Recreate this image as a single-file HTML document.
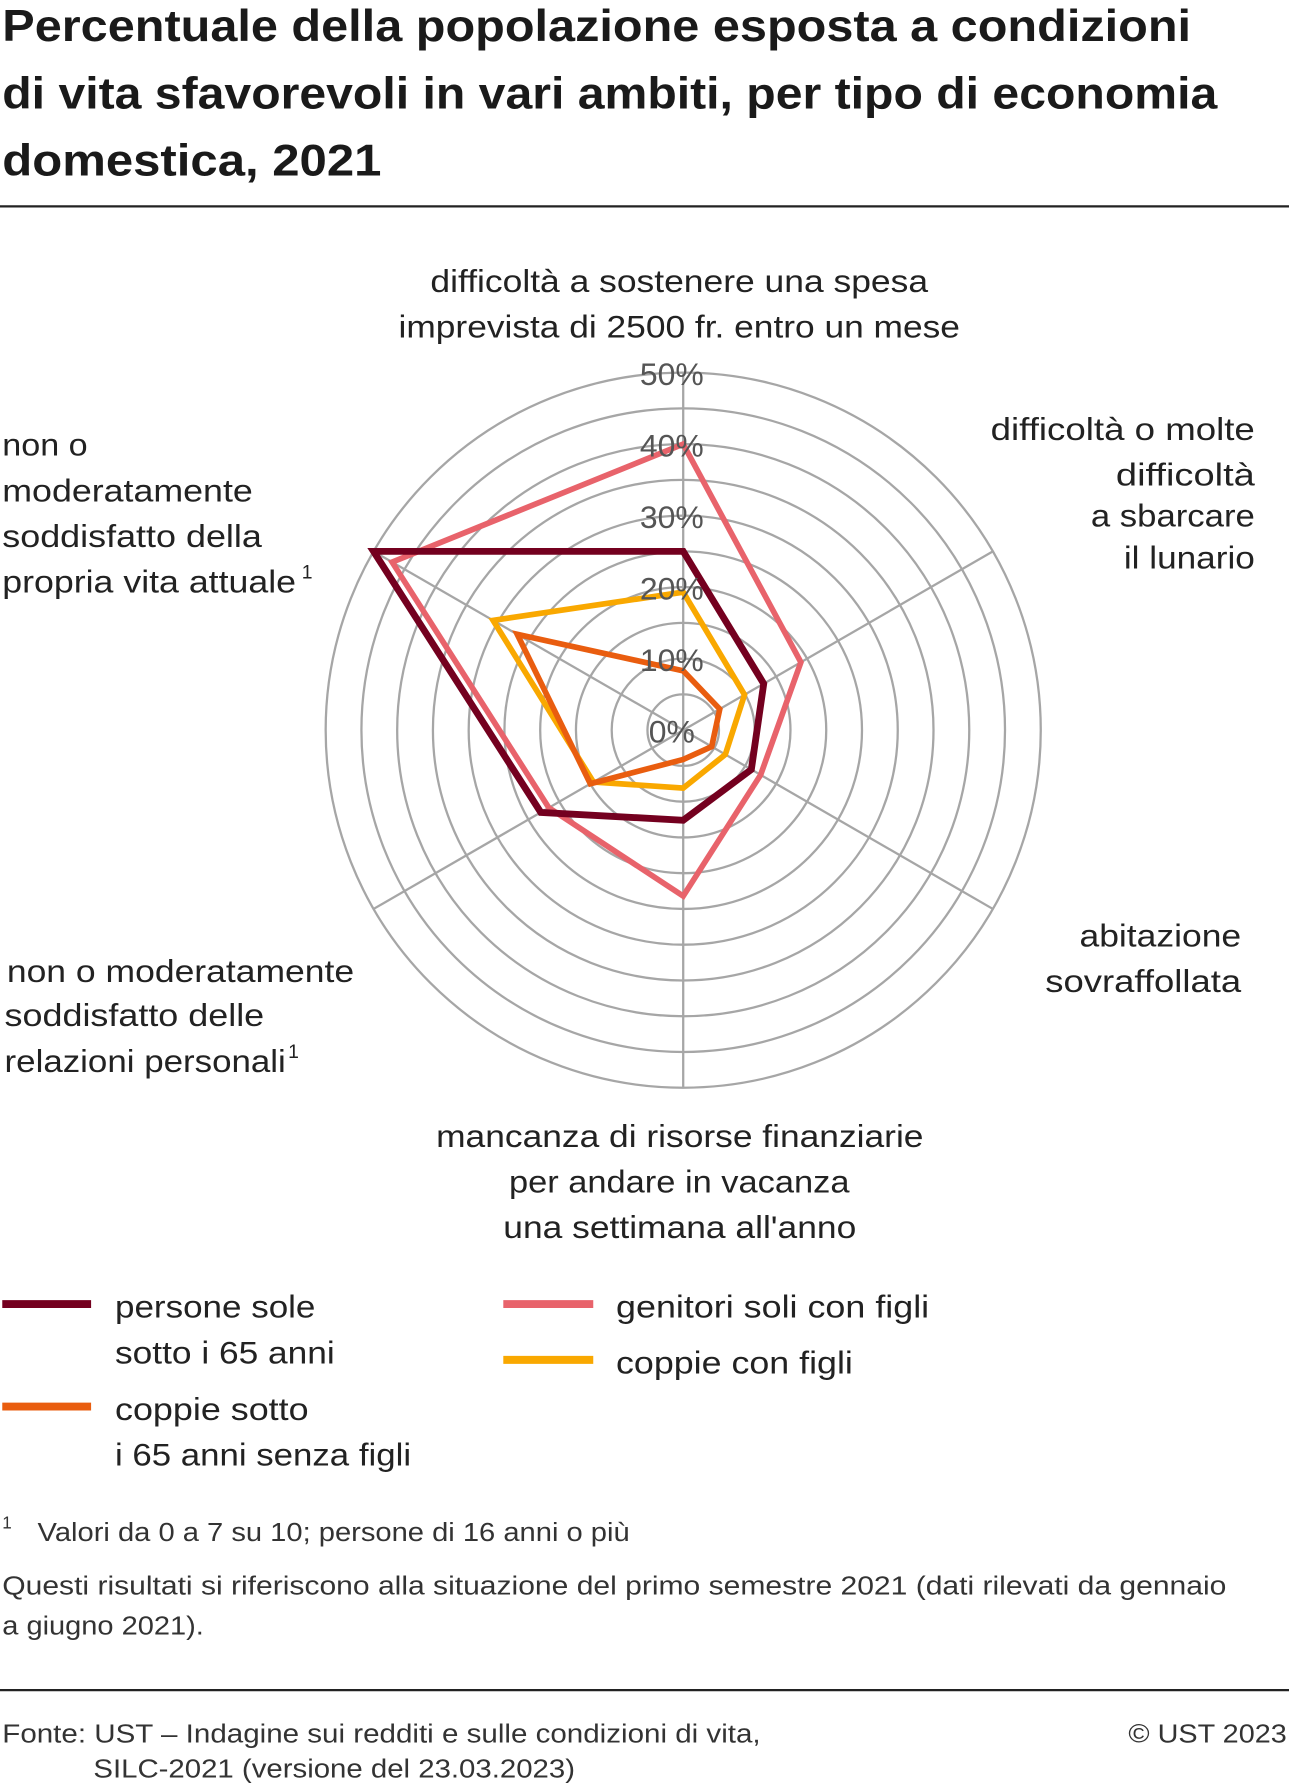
<!DOCTYPE html>
<html><head><meta charset="utf-8">
<style>
html,body{margin:0;padding:0;background:#fff;}
svg{display:block;font-family:"Liberation Sans",Arial,sans-serif;}
</style></head>
<body>
<svg id="chart" width="1289" height="1786" viewBox="0 0 1132 1568" xmlns="http://www.w3.org/2000/svg">
  <g font-size="39" font-weight="bold" fill="#1a1a1a" lengthAdjust="spacingAndGlyphs">
    <text x="2" y="36" textLength="1044" lengthAdjust="spacingAndGlyphs">Percentuale della popolazione esposta a condizioni</text>
    <text x="2" y="95" textLength="1067" lengthAdjust="spacingAndGlyphs">di vita sfavorevoli in vari ambiti, per tipo di economia</text>
    <text x="2" y="154" textLength="333" lengthAdjust="spacingAndGlyphs">domestica, 2021</text>
  </g>
  <line x1="0" y1="181" x2="1132" y2="181" stroke="#222" stroke-width="2"/>
  <g id="grid"></g>
  <g id="series"></g>
  <g id="ticks" font-size="28" fill="#555" text-anchor="middle"></g>
  <g font-size="28" fill="#222">
    <g>
      <text x="378" y="256" textLength="437" lengthAdjust="spacingAndGlyphs">difficoltà a sostenere una spesa</text>
      <text x="350" y="296" textLength="493" lengthAdjust="spacingAndGlyphs">imprevista di 2500 fr. entro un mese</text>
    </g>
    <g>
      <text x="870" y="386" textLength="232" lengthAdjust="spacingAndGlyphs">difficoltà o molte</text>
      <text x="980" y="426" textLength="122" lengthAdjust="spacingAndGlyphs">difficoltà</text>
      <text x="958" y="462" textLength="144" lengthAdjust="spacingAndGlyphs">a sbarcare</text>
      <text x="987" y="499" textLength="115" lengthAdjust="spacingAndGlyphs">il lunario</text>
    </g>
    <g>
      <text x="948" y="831" textLength="142" lengthAdjust="spacingAndGlyphs">abitazione</text>
      <text x="918" y="871" textLength="172" lengthAdjust="spacingAndGlyphs">sovraffollata</text>
    </g>
    <g>
      <text x="383" y="1007" textLength="428" lengthAdjust="spacingAndGlyphs">mancanza di risorse finanziarie</text>
      <text x="447" y="1047" textLength="299" lengthAdjust="spacingAndGlyphs">per andare in vacanza</text>
      <text x="442" y="1087" textLength="310" lengthAdjust="spacingAndGlyphs">una settimana all'anno</text>
    </g>
    <g>
      <text x="6" y="862" textLength="305" lengthAdjust="spacingAndGlyphs">non o moderatamente</text>
      <text x="4" y="901" textLength="228" lengthAdjust="spacingAndGlyphs">soddisfatto delle</text>
      <text x="4" y="941" textLength="247" lengthAdjust="spacingAndGlyphs">relazioni personali</text>
      <text x="253" y="929" font-size="17">1</text>
    </g>
    <g>
      <text x="2" y="400" textLength="75" lengthAdjust="spacingAndGlyphs">non o</text>
      <text x="2" y="440" textLength="220" lengthAdjust="spacingAndGlyphs">moderatamente</text>
      <text x="2" y="480" textLength="228" lengthAdjust="spacingAndGlyphs">soddisfatto della</text>
      <text x="2" y="520" textLength="258" lengthAdjust="spacingAndGlyphs">propria vita attuale</text>
      <text x="265" y="508" font-size="17">1</text>
    </g>
  </g>
  <g font-size="28" fill="#222">
    <g><line x1="2" y1="1145" x2="80" y2="1145" stroke="#74001f" stroke-width="7"/><text x="101" y="1157" textLength="176" lengthAdjust="spacingAndGlyphs">persone sole</text><text x="101" y="1197" textLength="193" lengthAdjust="spacingAndGlyphs">sotto i 65 anni</text></g>
    <g><line x1="2" y1="1235" x2="80" y2="1235" stroke="#e95d0f" stroke-width="7"/><text x="101" y="1247" textLength="170" lengthAdjust="spacingAndGlyphs">coppie sotto</text><text x="101" y="1287" textLength="260" lengthAdjust="spacingAndGlyphs">i 65 anni senza figli</text></g>
    <g><line x1="442" y1="1145" x2="521" y2="1145" stroke="#e8636b" stroke-width="7"/><text x="541" y="1157" textLength="275" lengthAdjust="spacingAndGlyphs">genitori soli con figli</text></g>
    <g><line x1="442" y1="1194" x2="521" y2="1194" stroke="#f9a800" stroke-width="7"/><text x="541" y="1206" textLength="208" lengthAdjust="spacingAndGlyphs">coppie con figli</text></g>
  </g>
  <g font-size="23" fill="#333">
    <text x="2" y="1342" font-size="15">1</text>
    <text x="33" y="1353" textLength="520" lengthAdjust="spacingAndGlyphs">Valori da 0 a 7 su 10; persone di 16 anni o più</text>
    <text x="2" y="1400" textLength="1075" lengthAdjust="spacingAndGlyphs">Questi risultati si riferiscono alla situazione del primo semestre 2021 (dati rilevati da gennaio</text>
    <text x="2" y="1435" textLength="177" lengthAdjust="spacingAndGlyphs">a giugno 2021).</text>
  </g>
  <line x1="0" y1="1484" x2="1132" y2="1484" stroke="#222" stroke-width="2"/>
  <g font-size="23" fill="#333">
    <text x="2" y="1530" textLength="666" lengthAdjust="spacingAndGlyphs">Fonte: UST – Indagine sui redditi e sulle condizioni di vita,</text>
    <text x="82" y="1561" textLength="423" lengthAdjust="spacingAndGlyphs">SILC-2021 (versione del 23.03.2023)</text>
    <text x="991" y="1530" textLength="139" lengthAdjust="spacingAndGlyphs">© UST 2023</text>
  </g>
</svg>
<script>
const axes = ["spesa imprevista","sbarcare il lunario","abitazione sovraffollata","vacanza","relazioni personali","vita attuale"];
const personeSole = [25, 13, 11, 12.6, 23, 50];
const genitoriSoli = [40, 19, 12.5, 23.2, 21.7, 47];
const coppieSenzaFigli = [8.3, 5.9, 4.6, 4.1, 15, 26.8];
const coppieConFigli = [19.3, 9.9, 6.8, 8.1, 14.5, 30.7];
const tickValues = [0, 10, 20, 30, 40, 50];
const tickLabels = ["0%","10%","20%","30%","40%","50%"];

const NS = "http://www.w3.org/2000/svg";
const cx = 600, cy = 641, R = 314, maxV = 50;
function rScale(v){ return v / maxV * R; }
function angle(i){ return (90 - i * 60) * Math.PI / 180; }
function pt(i, v){ const r = rScale(v), a = angle(i); return [cx + r*Math.cos(a), cy - r*Math.sin(a)]; }

const grid = document.getElementById("grid");
for (let k = 1; k <= 10; k++) {
  const c = document.createElementNS(NS, "circle");
  
  
  c.setAttribute("cx", cx); c.setAttribute("cy", cy);
  c.setAttribute("r", rScale(maxV * k / 10));
  c.setAttribute("fill", "none"); c.setAttribute("stroke", "#a6a6a6"); c.setAttribute("stroke-width", "2");
  grid.appendChild(c);
}
axes.forEach((a, i) => {
  const [x, y] = pt(i, maxV);
  const l = document.createElementNS(NS, "line");
  
  
  l.setAttribute("x1", cx); l.setAttribute("y1", cy); l.setAttribute("x2", x); l.setAttribute("y2", y);
  l.setAttribute("stroke", "#a6a6a6"); l.setAttribute("stroke-width", "2");
  grid.appendChild(l);
});

const seriesG = document.getElementById("series");
[[coppieConFigli, "#f9a800", 5, "series-coppie-con-figli"],
 [coppieSenzaFigli, "#e95d0f", 5, "series-coppie-senza-figli"],
 [genitoriSoli, "#e8636b", 5, "series-genitori-soli"],
 [personeSole, "#74001f", 6, "series-persone-sole"]].forEach(([vals, col, w, name]) => {
  const p = document.createElementNS(NS, "polygon");
  
  
  p.setAttribute("points", vals.map((v, i) => pt(i, v).join(",")).join(" "));
  p.setAttribute("fill", "none"); p.setAttribute("stroke", col); p.setAttribute("stroke-width", w);
  p.setAttribute("stroke-linejoin", "miter");
  seriesG.appendChild(p);
});

const ticksG = document.getElementById("ticks");
tickValues.forEach((v, i) => {
  const t = document.createElementNS(NS, "text");
  
  
  t.setAttribute("x", cx - 10); t.setAttribute("y", cy - rScale(v) + 11);
  t.textContent = tickLabels[i];
  ticksG.appendChild(t);
});
</script>
</body></html>
